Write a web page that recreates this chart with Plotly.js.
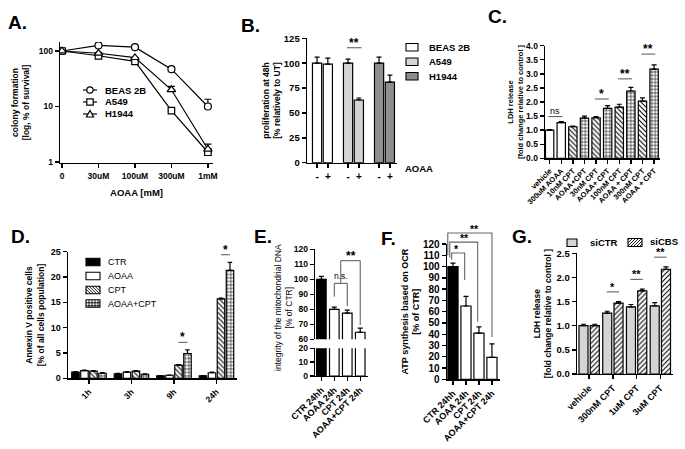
<!DOCTYPE html>
<html><head><meta charset="utf-8">
<script src="https://cdn.plot.ly/plotly-3.0.1.min.js"></script>
<style>html,body{margin:0;padding:0;background:#fff}#chart{width:685px;height:449px}</style>
</head><body><div id="chart"></div>
<script>
// ---------------- DATA ----------------
// A. colony formation (log % survival)
const doseLabels = ['0', '30uM', '100uM', '300uM', '1mM'];
const cellLines = ['BEAS 2B', 'A549', 'H1944'];
const colonyBEAS = [100, 126, 117, 47, 10];
const colonyA549 = [100, 82, 65, 8.4, 1.5];
const colonyH1944 = [100, 91, 76, 20, 1.7];
const colonyBEASErr = [0, 0, 0, 4, 3.5];
const colonyA549Err = [0, 0, 0, 0.8, 0.2];
const colonyH1944Err = [0, 0, 0, 3, 0.4];

// B. proliferation at 48h
const aoaaSigns = ['-', '+'];
const prolifUT = [100, 100, 100];
const prolifAOAA = [99, 63, 81];
const prolifUTErr = [6, 4, 6];
const prolifAOAAErr = [6, 2, 7];
const prolifSig = '**';

// C. LDH release (AOAA +/- CPT)
const ldhLabels = ['vehicle', '300uM AOAA', '10nM CPT', 'AOAA+CPT', '30nM CPT', 'AOAA+ CPT', '100nM CPT', 'AOAA + CPT', '300nM CPT', 'AOAA + CPT'];
const ldhValues = [1.0, 1.27, 1.12, 1.43, 1.44, 1.77, 1.82, 2.39, 2.03, 3.17];
const ldhErr = [0.02, 0.03, 0.02, 0.07, 0.04, 0.1, 0.1, 0.13, 0.12, 0.15];
const ldhKind = ['plain', 'plain', 'cpt', 'combo', 'cpt', 'combo', 'cpt', 'combo', 'cpt', 'combo'];
const ldhSigPairs = [[0, 1], [4, 5], [6, 7], [8, 9]];
const ldhSigLabels = ['ns', '*', '**', '**'];

// D. Annexin V
const timeLabels = ['1h', '3h', '9h', '24h'];
const annexinTreat = ['CTR', 'AOAA', 'CPT', 'AOAA+CPT'];
const annexinCTR = [1.2, 0.9, 0.5, 0.5];
const annexinAOAA = [1.5, 1.2, 0.6, 1.1];
const annexinCPT = [1.4, 1.4, 2.6, 15.7];
const annexinCombo = [1.0, 0.8, 4.9, 21.3];
const annexinCTRErr = [0.1, 0.1, 0.05, 0.05];
const annexinAOAAErr = [0.1, 0.1, 0.05, 0.1];
const annexinCPTErr = [0.1, 0.1, 0.1, 0.15];
const annexinComboErr = [0.15, 0.1, 0.7, 1.6];
const annexinSigTimes = [2, 3];
const annexinSigLabel = '*';

// E. mitochondrial DNA integrity
const mtLabels = ['CTR 24hh', 'AOAA 24h', 'CPT 24h', 'AOAA+CPT 24h'];
const mtValues = [100, 80, 77.5, 64.7];
const mtErr = [2, 1.5, 2, 2.7];

// F. ATP synthesis
const atpLabels = ['CTR 24hh', 'AOAA 24h', 'CPT 24h', 'AOAA+CPT 24h'];
const atpValues = [100, 65, 41, 19.5];
const atpErr = [3, 8.5, 5.5, 12];
const atpSigLabels = ['*', '**', '**'];

// G. LDH release siCTR / siCBS
const siLabels = ['vehicle', '300nM CPT', '1uM CPT', '3uM CPT'];
const siNames = ['siCTR', 'siCBS'];
const siCTR = [1.0, 1.26, 1.39, 1.41];
const siCBS = [1.0, 1.47, 1.72, 2.17];
const siCTRErr = [0.03, 0.04, 0.05, 0.07];
const siCBSErr = [0.03, 0.03, 0.04, 0.05];
const siSigLabels = ['', '*', '**', '**'];

// ---------------- HELPERS ----------------
const F = 'Liberation Sans, Arial, Helvetica, sans-serif';
const W = 685, H = 449;
const px = p => p / W;
const py = p => 1 - p / H;
const xdom = (a, b) => [px(a), px(b)];
const ydom = (top, bottom) => [py(bottom), py(top)];

function axis(o) {
  return Object.assign({
    showline: true, linecolor: 'black', linewidth: 1.4, ticks: 'outside', ticklen: 4,
    tickwidth: 1.4, tickcolor: 'black', showgrid: false, zeroline: false, fixedrange: true,
    tickfont: {family: F, size: 8, color: 'black', weight: 'bold'}
  }, o);
}
function tf(size, weight) { return {family: F, size: size, color: 'black', weight: weight || 'bold'}; }
function ttl(text, size, standoff, weight) { return {text: text, standoff: standoff, font: tf(size, weight)}; }
function errUp(arr, w) {
  return {type: 'data', array: arr, arrayminus: arr.map(() => 0), symmetric: false,
          color: 'black', thickness: 1.2, width: w || 2.5, visible: true};
}
const barLine = {color: 'black', width: 1.2};

const traces = [], shapes = [], annotations = [];

function sigMark(xr, yr, x0, x1, yLine, label, size, shift) {
  shapes.push({type: 'line', xref: xr, yref: yr, x0: x0, x1: x1, y0: yLine, y1: yLine,
               line: {color: '#555', width: 1}});
  const star = label.indexOf('*') >= 0;
  annotations.push({xref: xr, yref: yr, x: (x0 + x1) / 2, y: yLine, text: label, showarrow: false,
                    xanchor: 'center', yanchor: 'bottom', yshift: shift !== undefined ? shift : (star ? -4 : -1),
                    font: tf(size || 12, star ? 'bold' : 'normal')});
}
function label(xp, yp, text, size, weight, anchor) {
  annotations.push({xref: 'paper', yref: 'paper', x: px(xp), y: py(yp), text: text, showarrow: false,
                    xanchor: anchor || 'left', yanchor: 'middle', font: tf(size, weight)});
}
function hatch(x0, y0, x1, y1, kind, sp) {
  let d = '';
  const seg = (ax, ay, bx, by) => { d += 'M' + px(ax) + ',' + py(ay) + 'L' + px(bx) + ',' + py(by); };
  if (kind === '\\') { for (let c = x0 - y1 + sp / 2; c <= x1 - y0; c += sp) { const xa = Math.max(x0, y0 + c), xb = Math.min(x1, y1 + c); if (xb > xa) seg(xa, xa - c, xb, xb - c); } }
  if (kind === '/') { for (let c = x0 + y0 + sp / 2; c <= x1 + y1; c += sp) { const xa = Math.max(x0, c - y1), xb = Math.min(x1, c - y0); if (xb > xa) seg(xa, c - xa, xb, c - xb); } }
  if (kind === '+') { for (let x = x0 + sp; x < x1 - 0.5; x += sp) seg(x, y0, x, y1); for (let y = y0 + sp; y < y1 - 0.5; y += sp) seg(x0, y, x1, y); }
  return d;
}
function swatch(x0, y0, x1, y1, fill, kind, sp) {
  shapes.push({type: 'rect', xref: 'paper', yref: 'paper', x0: px(x0), x1: px(x1), y0: py(y1), y1: py(y0),
               fillcolor: fill, line: {color: 'black', width: 1.1}});
  if (kind) shapes.push({type: 'path', xref: 'paper', yref: 'paper', path: hatch(x0, y0, x1, y1, kind, sp || 3),
                         line: {color: 'black', width: 0.9}});
}

// ---------------- PANEL A ----------------
const doseX = doseLabels.map((_, i) => i);
const colonySeries = [
  {name: cellLines[0], y: colonyBEAS, e: colonyBEASErr, sym: 'circle', size: 7},
  {name: cellLines[1], y: colonyA549, e: colonyA549Err, sym: 'square', size: 6.5},
  {name: cellLines[2], y: colonyH1944, e: colonyH1944Err, sym: 'triangle-up', size: 7.5}
];
colonySeries.forEach(s => traces.push({
  type: 'scatter', mode: 'lines+markers', name: s.name, x: doseX, y: s.y, xaxis: 'x', yaxis: 'y',
  line: {color: 'black', width: 1.2},
  marker: {symbol: s.sym, size: s.size, color: 'white', line: {color: 'black', width: 1.2}},
  error_y: errUp(s.e, 3.5)
}));
// legend A
colonySeries.forEach((s, i) => {
  const yc = 90 + 12 * i;
  shapes.push({type: 'line', xref: 'paper', yref: 'paper', x0: px(83), x1: px(97), y0: py(yc), y1: py(yc), line: {color: 'black', width: 1.2}});
  const r = 3.2;
  if (s.sym === 'circle') shapes.push({type: 'circle', xref: 'paper', yref: 'paper', x0: px(90 - r), x1: px(90 + r), y0: py(yc + r), y1: py(yc - r), fillcolor: 'white', line: {color: 'black', width: 1.2}});
  if (s.sym === 'square') shapes.push({type: 'rect', xref: 'paper', yref: 'paper', x0: px(90 - r), x1: px(90 + r), y0: py(yc + r), y1: py(yc - r), fillcolor: 'white', line: {color: 'black', width: 1.2}});
  if (s.sym === 'triangle-up') shapes.push({type: 'path', xref: 'paper', yref: 'paper', path: 'M' + px(90 - 3.6) + ',' + py(yc + 3) + 'L' + px(90 + 3.6) + ',' + py(yc + 3) + 'L' + px(90) + ',' + py(yc - 3.6) + 'Z', fillcolor: 'white', line: {color: 'black', width: 1.2}});
  label(103, yc, s.name, 9.5, 'bold');
});

// ---------------- PANEL B ----------------
const bGap = 2.87;
const bColors = ['white', '#d4d4d4', '#8e8e8e'];
const bTickVals = [], bTickText = [];
cellLines.forEach((name, g) => {
  traces.push({type: 'bar', name: name, x: [g * bGap, g * bGap + 1], y: [prolifUT[g], prolifAOAA[g]], width: 0.85,
               xaxis: 'x2', yaxis: 'y2', marker: {color: bColors[g], line: barLine},
               error_y: errUp([prolifUTErr[g], prolifAOAAErr[g]])});
  aoaaSigns.forEach((s, k) => { bTickVals.push(g * bGap + k); bTickText.push(s); });
  swatch(406, 43.5 + 14.5 * g, 418, 51 + 14.5 * g, bColors[g]);
  label(427, 47 + 14.5 * g, name, 9.5, 'bold');
});
sigMark('x2', 'y2', 1 * bGap - 0.1, 1 * bGap + 1.25,
        Math.max(prolifUT[1] + prolifUTErr[1], prolifAOAA[1] + prolifAOAAErr[1]) + 11.5, prolifSig, 12);
label(419, 168, 'AOAA', 9.5, 'bold', 'center');

// ---------------- PANEL C ----------------
const cPattern = {plain: '', cpt: '\\', combo: '+'};
const cX = ldhLabels.map((_, i) => i);
traces.push({type: 'bar', x: cX, y: ldhValues, width: 0.72, xaxis: 'x3', yaxis: 'y3',
  marker: {color: 'white', line: barLine, pattern: {shape: ldhKind.map(k => cPattern[k]), fgcolor: 'black', bgcolor: 'white', size: 3.5, solidity: 0.3}},
  error_y: errUp(ldhErr)});
ldhSigPairs.forEach((p, i) => {
  const top = Math.max(ldhValues[p[0]] + ldhErr[p[0]], ldhValues[p[1]] + ldhErr[p[1]]);
  sigMark('x3', 'y3', p[0] - 0.1, p[1] + 0.1, top * 1.1 + 0.05, ldhSigLabels[i], ldhSigLabels[i] === 'ns' ? 9 : 12);
});

// ---------------- PANEL D ----------------
const dGap = 4.72;
const dSeries = [annexinCTR, annexinAOAA, annexinCPT, annexinCombo];
const dErrs = [annexinCTRErr, annexinAOAAErr, annexinCPTErr, annexinComboErr];
const dStyle = [{c: 'black', s: ''}, {c: 'white', s: ''}, {c: 'white', s: '\\'}, {c: 'white', s: '+'}];
dSeries.forEach((vals, k) => traces.push({
  type: 'bar', name: annexinTreat[k], x: timeLabels.map((_, g) => g * dGap + k), y: vals, width: 0.83,
  xaxis: 'x4', yaxis: 'y4',
  marker: {color: dStyle[k].c, line: barLine, pattern: {shape: dStyle[k].s, fgcolor: 'black', bgcolor: dStyle[k].c, size: 3.5, solidity: 0.3}},
  error_y: errUp(dErrs[k], 2.2)}));
annexinSigTimes.forEach(g => {
  const top = Math.max(annexinCPT[g] + annexinCPTErr[g], annexinCombo[g] + annexinComboErr[g]);
  sigMark('x4', 'y4', g * dGap + 2, g * dGap + 3, top + 1.5, annexinSigLabel, 12);
});
annexinTreat.forEach((name, k) => {
  const yc = [262, 276, 290, 303.5][k];
  swatch(86, yc - 3.7, 100, yc + 3.7, dStyle[k].c, dStyle[k].s, 3);
  label(106, yc, name, 9, 'normal');
});

// ---------------- PANEL E ----------------
const mtShape = ['', '-', '|', '+'];
const mtColor = ['black', 'white', 'white', 'white'];
const mtX = mtLabels.map((_, i) => i);
['y5', 'y6'].forEach((ya, j) => traces.push({
  type: 'bar', x: mtX, y: mtValues, width: 0.74, xaxis: 'x5', yaxis: ya,
  marker: {color: mtColor, line: barLine, pattern: {shape: mtShape, fgcolor: 'black', bgcolor: mtColor, size: 3, solidity: 0.3}},
  error_y: j === 0 ? errUp(mtErr) : undefined}));
// brackets E
shapes.push({type: 'path', xref: 'x5', yref: 'y5', path: 'M1,88.4L1,97.3L2,97.3L2,82.2', line: {color: '#555', width: 1}});
shapes.push({type: 'path', xref: 'x5', yref: 'y5', path: 'M1.5,97.3L1.5,112.4L3,112.4L3,69.5', line: {color: '#555', width: 1}});
annotations.push({xref: 'x5', yref: 'y5', x: 1.5, y: 97.3, text: 'n.s.', showarrow: false, yanchor: 'bottom', yshift: 0, font: tf(8.5, 'normal')});
annotations.push({xref: 'x5', yref: 'y5', x: 2.25, y: 112.4, text: '**', showarrow: false, yanchor: 'bottom', yshift: -4, font: tf(12, 'bold')});
annotations.push({xref: 'paper', yref: 'paper', x: px(283), y: py(308), text: 'integrity of the mitochondrial DNA<br>[% of CTR]',
                  textangle: -90, showarrow: false, xanchor: 'center', yanchor: 'middle', font: tf(8.5, 'normal')});

// ---------------- PANEL F ----------------
const atpX = atpLabels.map((_, i) => i);
traces.push({type: 'bar', x: atpX, y: atpValues, width: 0.78, xaxis: 'x6', yaxis: 'y7',
  marker: {color: mtColor, line: barLine, pattern: {shape: mtShape, fgcolor: 'black', bgcolor: mtColor, size: 3, solidity: 0.3}},
  error_y: errUp(atpErr)});
const fy = v => py(379.3 - v * (379.3 - 244) / 120);
// [left x, left leg bottom, top, right x, right leg bottom, label x]
const fBr = [[-0.1, 106, 112, 0.9, 88, 0.3], [-0.25, 108, 121.7, 1.9, 51, 0.9], [-0.4, 110, 129.7, 3.0, 37.5, 1.62]];
fBr.forEach((b, i) => {
  shapes.push({type: 'path', xref: 'x6', yref: 'paper',
    path: 'M' + b[0] + ',' + fy(b[1]) + 'L' + b[0] + ',' + fy(b[2]) + 'L' + b[3] + ',' + fy(b[2]) + 'L' + b[3] + ',' + fy(b[4]),
    line: {color: '#666', width: 1.1}});
  annotations.push({xref: 'x6', yref: 'paper', x: b[5], y: fy(b[2]), text: atpSigLabels[i], showarrow: false,
                    yanchor: 'bottom', yshift: -4, font: tf(10.5, 'bold')});
});

// ---------------- PANEL G ----------------
const gGap = 2.1;
const gX0 = siLabels.map((_, g) => g * gGap);
const gX1 = siLabels.map((_, g) => g * gGap + 1);
traces.push({type: 'bar', name: siNames[0], x: gX0, y: siCTR, width: 0.8, xaxis: 'x7', yaxis: 'y8',
             marker: {color: '#d4d4d4', line: barLine}, error_y: errUp(siCTRErr)});
traces.push({type: 'bar', name: siNames[1], x: gX1, y: siCBS, width: 0.8, xaxis: 'x7', yaxis: 'y8',
             marker: {color: 'white', line: barLine, pattern: {shape: '/', fgcolor: 'black', bgcolor: 'white', size: 3.5, solidity: 0.3}},
             error_y: errUp(siCBSErr)});
siSigLabels.forEach((s, g) => {
  if (!s) return;
  sigMark('x7', 'y8', g * gGap - 0.05, g * gGap + 1.05, Math.max(siCTR[g] + siCTRErr[g], siCBS[g] + siCBSErr[g]) + 0.2, s, 11, -3);
});
swatch(567, 239, 577, 246.5, '#d4d4d4');
label(588, 242, siNames[0], 9.5, 'bold');
swatch(628, 238.5, 642, 246.5, 'white', '/', 3);
label(648, 241.5, siNames[1], 9.5, 'bold');

// ---------------- PANEL LETTERS ----------------
[['A.', 6, 22], ['B.', 239, 25], ['C.', 486, 17], ['D.', 9, 237], ['E.', 252, 237], ['F.', 379, 238], ['G.', 510, 237]]
  .forEach(l => label(l[1], l[2], l[0], 19, 'bold'));

// ---------------- LAYOUT ----------------
const layout = {
  width: W, height: H, margin: {l: 0, r: 0, t: 0, b: 0}, showlegend: false, barmode: 'overlay',
  paper_bgcolor: 'white', plot_bgcolor: 'rgba(0,0,0,0)', font: {family: F, color: 'black'},
  // A
  xaxis: axis({domain: xdom(60, 213), anchor: 'y', range: [-0.055, 4.14], tickvals: doseX, ticktext: doseLabels,
               tickfont: tf(8.5), title: ttl('AOAA [mM]', 9.5, 9)}),
  yaxis: axis({domain: ydom(42, 163), anchor: 'x', type: 'log', range: [-0.018, 2.162], tickvals: [1, 10, 100], ticktext: ['1', '10', '100'],
               tickfont: tf(8.5), title: ttl('colony formation<br>[log, % of survival]', 8.5, 7)}),
  // B
  xaxis2: axis({domain: xdom(307, 397), anchor: 'y2', range: [-0.93, 7.4], tickvals: bTickVals, ticktext: bTickText, tickfont: tf(10)}),
  yaxis2: axis({domain: ydom(38.3, 162.7), anchor: 'x2', range: [0, 125], dtick: 25, tickfont: tf(9.5),
                title: ttl('proliferation at 48h<br>[% relatively to UT]', 8.5, 2)}),
  // C
  xaxis3: axis({domain: xdom(545, 660), anchor: 'y3', range: [-0.4, 9.51], tickvals: cX, ticktext: ldhLabels, tickangle: -45, tickfont: tf(7.5)}),
  yaxis3: axis({domain: ydom(45.7, 158.3), anchor: 'x3', range: [0, 4], dtick: 0.5, tickformat: '.1f', tickfont: tf(8.5),
                title: ttl('LDH release<br>[fold change relative to control ]', 7.5, 1)}),
  // D
  xaxis4: axis({domain: xdom(68, 237), anchor: 'y4', range: [-0.83, 17.94], tickvals: timeLabels.map((_, g) => g * dGap + 1.5), ticktext: timeLabels, tickangle: -45, tickfont: tf(8.5)}),
  yaxis4: axis({domain: ydom(251.7, 378.3), anchor: 'x4', range: [0, 25], dtick: 5, tickfont: tf(9),
                title: ttl('Annexin V positive cells<br>[% of all cells population]', 8.5, 5)}),
  // E
  xaxis5: axis({domain: xdom(315, 368), anchor: 'y6', range: [-0.49, 3.6], tickvals: mtX, ticktext: mtLabels, tickangle: -45, tickfont: tf(9)}),
  yaxis5: axis({domain: ydom(249.3, 339.3), anchor: 'x5', range: [60, 120], dtick: 10, tickfont: tf(8.5)}),
  yaxis6: axis({domain: ydom(348.3, 376), anchor: 'x5', range: [0, 20], dtick: 10, tickfont: tf(8.5)}),
  // F
  xaxis6: axis({domain: xdom(447, 500), anchor: 'y7', range: [-0.46, 3.62], tickvals: atpX, ticktext: atpLabels, tickangle: -45, tickfont: tf(9)}),
  yaxis7: axis({domain: ydom(244, 379.3), anchor: 'x6', range: [0, 120], dtick: 10, tickfont: tf(10),
                title: ttl('ATP synthesis based on OCR<br>[% of CTR]', 9, 1)}),
  // G
  xaxis7: axis({domain: xdom(577, 673), anchor: 'y8', range: [-0.575, 7.92], tickvals: siLabels.map((_, g) => g * gGap + 0.5), ticktext: siLabels, tickangle: -45, tickfont: tf(9)}),
  yaxis8: axis({domain: ydom(253.3, 374), anchor: 'x7', range: [0, 2.5], dtick: 0.5, tickformat: '.1f', tickfont: tf(9.5),
                title: ttl('LDH release<br>[fold change relative to control ]', 8.5, 3)}),
  shapes: shapes, annotations: annotations
};
Plotly.newPlot('chart', traces, layout, {staticPlot: true, displayModeBar: false});
</script>
</body></html>
